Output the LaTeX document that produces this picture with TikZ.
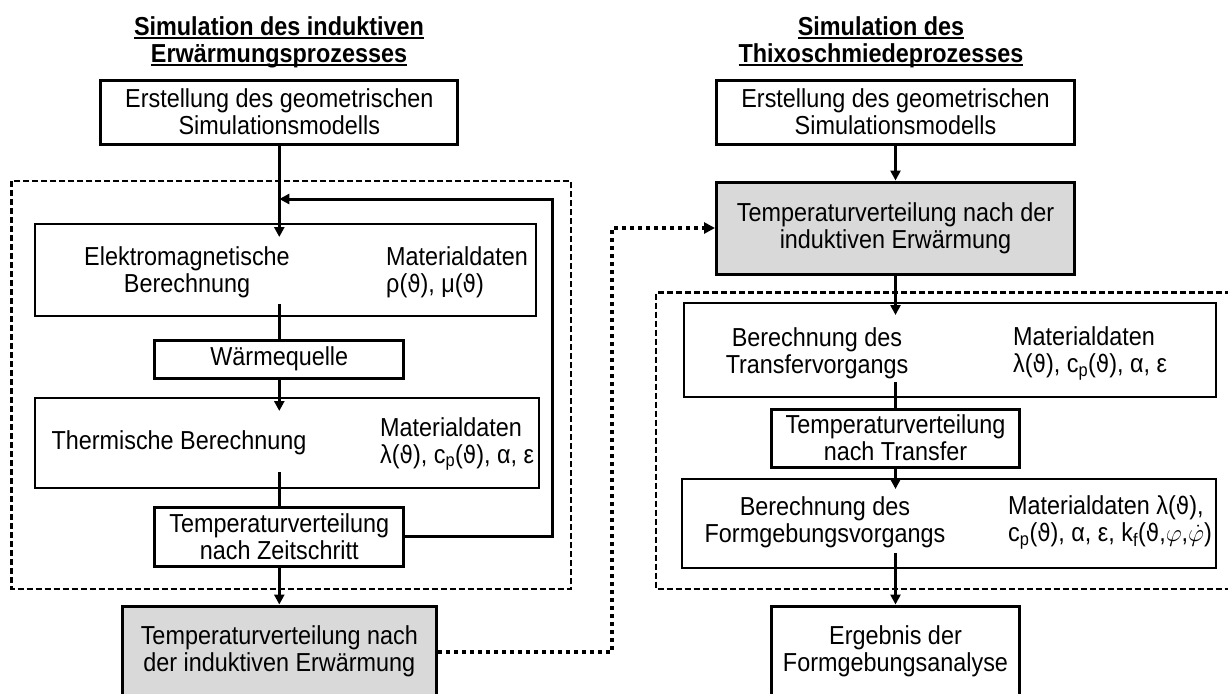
\documentclass[tikz,border=0pt]{standalone}
\usepackage{fontspec}
\usepackage{amsmath}
\setmainfont{Liberation Sans}[FakeStretch=0.9]
\newfontfamily\symbfont[Scale=0.92,FakeStretch=0.9]{DejaVu Sans}
\usetikzlibrary{arrows.meta}

\newcommand{\thv}{{\symbfont ϑ}}
\newcommand{\ulined}[1]{\leavevmode\setbox0=\hbox{#1}\rlap{\rule[-3.8pt]{\wd0}{2.2pt}}\box0}
\newcommand{\boxfont}{\fontsize{26pt}{27pt}\selectfont\lineskiplimit=-20pt}

\definecolor{boxgray}{RGB}{217,217,217}

\tikzset{
    every node/.style={inner sep=0pt, align=center, font=\boxfont}
}
\tikzset{
    solidbox/.style={draw, line width=3pt, fill=white},
    calcbox/.style={draw, line width=2pt, fill=white},
    resultbox/.style={solidbox, fill=boxgray},
    headline/.style={font=\boxfont\bfseries}
}
\tikzset{
    flow/.style={line width=3pt, -{Triangle[length=10pt,width=10pt]}},
    plain/.style={line width=3pt},
    loopzone/.style={line width=2.5pt, dash pattern=on 6pt off 3pt},
    handover/.style={line width=4pt, dash pattern=on 4pt off 4pt,
    	-{Triangle[length=11pt,width=11pt]}}
}

\begin{document}
\begin{tikzpicture}[x=1pt, y=-1pt]
	\useasboundingbox (0,0) rectangle (1228,693);
	\clip (0,0) rectangle (1228,693);

	% headings
	\node[headline] (headL) at (279,42)
		{\ulined{Simulation des induktiven}\\\ulined{Erwärmungsprozesses}};
	\node[headline] (headR) at (881,42)
		{\ulined{Simulation des}\\\ulined{Thixoschmiedeprozesses}};

	% iteration zones
	\draw[loopzone] (11.7,181) rectangle (571,589);
	\draw[loopzone] (1240,292.7) -- (656,292.7) -- (656,589) -- (1240,589);

	% induction heating
	\node[solidbox, minimum width=357pt, minimum height=64pt] (geoL) at (279.3,112)
		{Erstellung des geometrischen\\Simulationsmodells};
	\node[calcbox, minimum width=501pt, minimum height=92pt] (elek) at (285,270) {};
	\node (elektxt) at (187,272) {Elektromagnetische\\Berechnung};
	\node[anchor=west, align=left] (elekmat) at (386,272)
		{Materialdaten\\ρ(\thv), μ(\thv)};
	\node[solidbox, minimum width=249pt, minimum height=38pt] (waerme) at (279.3,359)
		{Wärmequelle};
	\node[calcbox, minimum width=504.5pt, minimum height=90pt] (therm) at (286.8,443) {};
	\node (thermtxt) at (179,443) {Thermische Berechnung};
	\node[anchor=west, align=left] (thermmat) at (380,444)
		{Materialdaten\\λ(\thv), c\textsubscript{p}(\thv), α, ε};
	\node[solidbox, minimum width=249pt, minimum height=59pt] (zeit) at (279.3,536.5)
		{Temperaturverteilung\\nach Zeitschritt};
	\node[resultbox, minimum width=314pt, minimum height=91pt] (tempL) at (279.3,651.5)
		{Temperaturverteilung nach\\der induktiven Erwärmung};

	\coordinate (elekin) at (279.3,237);
	\coordinate (elekout) at (279.3,304);
	\coordinate (thermin) at (279.3,411);
	\coordinate (thermout) at (279.3,472);
	\coordinate (fbk) at (552,199);
	\coordinate (merge) at (279.3,199);

	\draw[flow] (geoL) -- (elekin);
	\draw[plain] (elekout) -- (waerme);
	\draw[flow] (waerme) -- (thermin);
	\draw[plain] (thermout) -- (zeit);
	\draw[flow] (zeit) -- (tempL);
	\draw[flow] (zeit.east) -| (fbk) -- (merge);

	% thixoforging
	\node[solidbox, minimum width=357.4pt, minimum height=64pt] (geoR) at (895.5,112)
		{Erstellung des geometrischen\\Simulationsmodells};
	\node[resultbox, minimum width=358pt, minimum height=92pt] (tempR) at (895.5,228)
		{Temperaturverteilung nach der\\induktiven Erwärmung};
	\node[calcbox, minimum width=532.3pt, minimum height=94pt] (trans) at (950,350) {};
	\node (transtxt) at (817,353.5) {Berechnung des\\Transfervorgangs};
	\node[anchor=west, align=left] (transmat) at (1013,353.5)
		{Materialdaten\\λ(\thv), c\textsubscript{p}(\thv), α, ε};
	\node[solidbox, minimum width=248pt, minimum height=58pt] (ttrans) at (895.5,438)
		{Temperaturverteilung\\nach Transfer};
	\node[calcbox, minimum width=534.3pt, minimum height=89.5pt] (form) at (949,523.7) {};
	\node (formtxt) at (825,522.5) {Berechnung des\\Formgebungsvorgangs};
	\node[anchor=west, align=left] (formmat) at (1008,522.5)
		{Materialdaten λ(\thv),\\c\textsubscript{p}(\thv), α, ε, k\textsubscript{f}(\thv,$\varphi$,$\dot{\varphi}$)};
	\node[solidbox, minimum width=248pt, minimum height=91pt] (ergebnis) at (895.5,651.5)
		{Ergebnis der\\Formgebungsanalyse};

	\coordinate (transin) at (895.5,315);
	\coordinate (transout) at (895.5,382);
	\coordinate (formin) at (895.5,489);
	\coordinate (formout) at (895.5,553);

	\draw[flow] (geoR) -- (tempR);
	\draw[flow] (tempR) -- (transin);
	\draw[plain] (transout) -- (ttrans);
	\draw[flow] (ttrans) -- (formin);
	\draw[flow] (formout) -- (ergebnis);

	% hand-over of the temperature field
	\coordinate (dotcorner) at (612,400);
	\draw[handover] (tempL.east) -| (dotcorner) |- (tempR.west);
\end{tikzpicture}
\end{document}
